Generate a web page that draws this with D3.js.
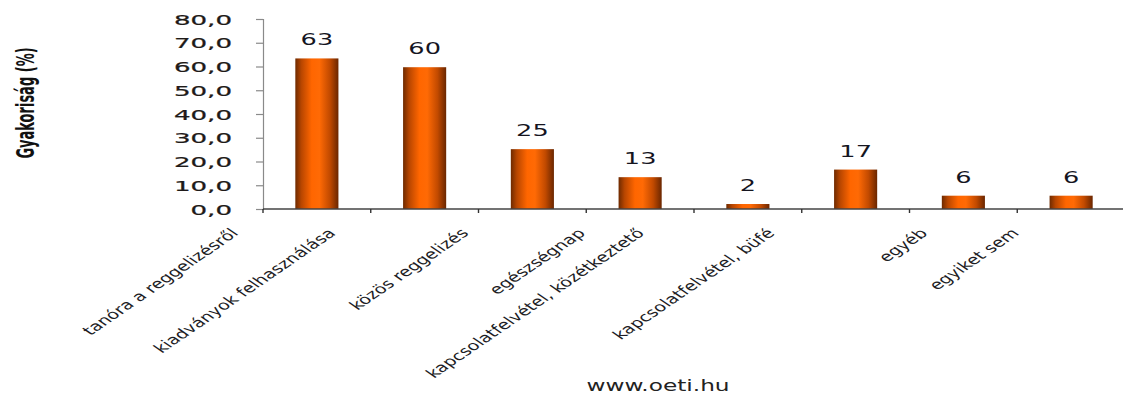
<!DOCTYPE html>
<html>
<head>
<meta charset="utf-8">
<script src="https://cdn.jsdelivr.net/npm/d3@7"></script>
<style>
  html, body { margin: 0; padding: 0; background: #fff; }
  svg { display: block; }
  text { font-family: "DejaVu Sans", Verdana, sans-serif; }
</style>
</head>
<body>
<svg id="chart" width="1123" height="394"></svg>
<script>
// ---- data ----
const categories = [
  "tanóra a reggelizésről",
  "kiadványok felhasználása",
  "közös reggelizés",
  "egészségnap",
  "kapcsolatfelvétel, közétkeztető",
  "kapcsolatfelvétel, büfé",
  "egyéb",
  "egyiket sem"
];
const values = [63.4, 59.7, 25.2, 13.4, 2.1, 16.6, 5.6, 5.6];
const yTicks = [0, 10, 20, 30, 40, 50, 60, 70, 80];
const yTitle = "Gyakoriság (%)";
const footer = "www.oeti.hu";

// ---- layout ----
const W = 1123, H = 394;
const plotLeft = 263, plotRight = 1125, plotTop = 19, plotBottom = 209;
const svg = d3.select("#chart");

const x = d3.scaleBand().domain(categories).range([plotLeft, plotRight])
  .paddingInner(0.6).paddingOuter(0.3);
const y = d3.scaleLinear().domain([0, 80]).range([plotBottom, plotTop]);

// gradient
const defs = svg.append("defs");
const grad = defs.append("linearGradient").attr("id", "barGrad")
  .attr("x1", "0%").attr("x2", "100%").attr("y1", "0%").attr("y2", "0%");
[["0%", "#6e2a00"], ["14%", "#b84600"], ["38%", "#ff6600"], ["56%", "#ff6a05"],
 ["80%", "#c24a00"], ["100%", "#6a2600"]].forEach(([o, c]) =>
  grad.append("stop").attr("offset", o).attr("stop-color", c));

// y axis
const yAxis = svg.append("g").attr("transform", `translate(${plotLeft},0)`)
  .call(d3.axisLeft(y).tickValues(yTicks).tickSize(7).tickPadding(0)
    .tickFormat(d => d3.format(".1f")(d).replace(".", ",")));
yAxis.select(".domain").attr("stroke", "#8a8a8a").attr("stroke-width", 1.2);
yAxis.selectAll(".tick line").attr("stroke", "#8a8a8a").attr("stroke-width", 1.2);
yAxis.selectAll(".tick text").each(function () {
  d3.select(this).attr("x", null).attr("dy", null)
    .attr("text-anchor", "end")
    .attr("dominant-baseline", "central")
    .attr("font-size", 14.5)
    .attr("fill", "#1e1a18")
    .attr("stroke", "#1e1a18").attr("stroke-width", 0.25)
    .attr("transform", `translate(-31,0) scale(1.8,1)`);
});

// bars
svg.append("g").selectAll("rect").data(values).join("rect")
  .attr("x", (d, i) => x(categories[i]))
  .attr("width", x.bandwidth())
  .attr("y", d => y(d))
  .attr("height", d => y(0) - y(d))
  .attr("fill", "url(#barGrad)");

// x axis line + ticks
const xa = svg.append("g");
xa.append("line").attr("x1", plotLeft).attr("x2", W).attr("y1", y(0)).attr("y2", y(0))
  .attr("stroke", "#444").attr("stroke-width", 1.6);
xa.selectAll("line.tk").data(d3.range(categories.length + 1)).join("line")
  .attr("class", "tk")
  .attr("x1", i => plotLeft + i * x.step()).attr("x2", i => plotLeft + i * x.step())
  .attr("y1", y(0)).attr("y2", y(0) + 4)
  .attr("stroke", "#333").attr("stroke-width", 1.4);

// value labels
svg.append("g").selectAll("text").data(values).join("text")
  .attr("text-anchor", "middle")
  .attr("font-size", 16)
  .attr("fill", "#15151f")
  .attr("transform", (d, i) =>
    `translate(${x(categories[i]) + x.bandwidth() / 2},${y(d) - 13}) scale(1.6,1)`)
  .text(d => Math.round(d));

// category labels
const sx = 1.46;
svg.append("g").selectAll("text").data(categories).join("text")
  .attr("text-anchor", "end")
  .attr("font-size", 13.2)
  .attr("fill", "#1c1c24")
  .text(d => d)
  .each(function (d) {
    const w = this.getComputedTextLength();
    const dx = sx * w * Math.SQRT1_2;
    const cx = x(d) + x.bandwidth() / 2;
    const ex = cx - 18 - 0.4 * dx;
    const ey = 234;
    d3.select(this).attr("transform",
      `translate(${ex},${ey}) scale(${sx},1) rotate(-45)`);
  });

// y title
svg.append("text")
  .attr("text-anchor", "middle")
  .attr("dominant-baseline", "central")
  .attr("font-size", 13)
  .attr("font-weight", "bold")
  .attr("fill", "#111")
  .attr("transform", "translate(26,103) scale(1.9,1) rotate(-90)")
  .text(yTitle);

// footer
svg.append("text")
  .attr("text-anchor", "middle")
  .attr("font-size", 15)
  .attr("fill", "#222")
  .attr("transform", "translate(658,391) scale(1.55,1)")
  .text(footer);
</script>
</body>
</html>
